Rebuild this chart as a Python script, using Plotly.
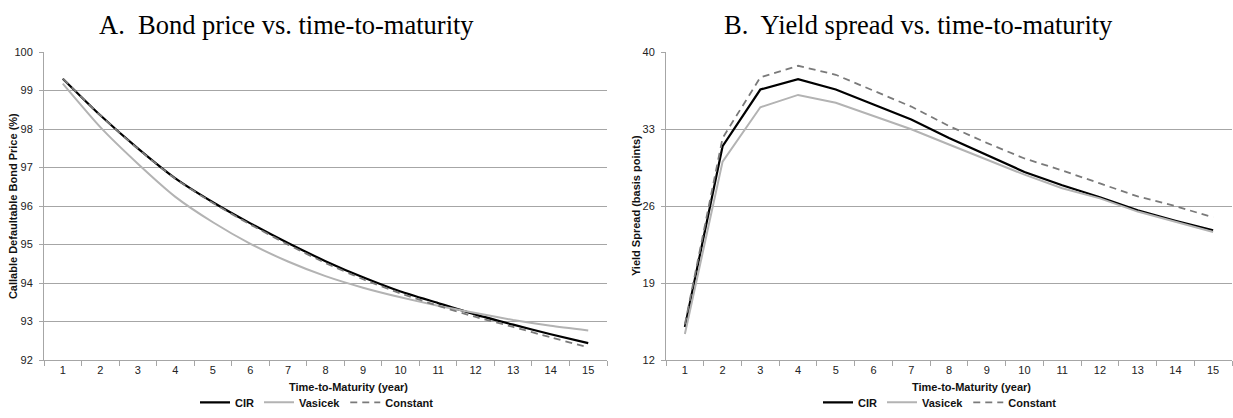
import plotly.graph_objects as go

years = list(range(1, 16))

price_cir = [99.31, 98.36, 97.50, 96.72, 96.10, 95.55, 95.04, 94.57, 94.15, 93.78, 93.48, 93.18, 92.92, 92.67, 92.44]
price_vasicek = [99.18, 98.05, 97.10, 96.24, 95.58, 95.02, 94.56, 94.18, 93.88, 93.63, 93.41, 93.22, 93.04, 92.89, 92.77]
price_constant = [99.31, 98.36, 97.49, 96.71, 96.08, 95.52, 95.00, 94.52, 94.10, 93.73, 93.41, 93.12, 92.86, 92.59, 92.33]

spread_cir = [15.0, 31.45, 36.6, 37.55, 36.6, 35.2, 33.87, 32.2, 30.63, 29.1, 27.9, 26.8, 25.62, 24.67, 23.8]
spread_vasicek = [14.36, 30.04, 34.99, 36.11, 35.4, 34.2, 32.99, 31.6, 30.2, 28.86, 27.62, 26.7, 25.5, 24.56, 23.64]
spread_constant = [15.24, 32.19, 37.7, 38.76, 37.94, 36.46, 35.05, 33.28, 31.75, 30.33, 29.24, 28.06, 26.88, 26.0, 24.97]

price_ticks = [92, 93, 94, 95, 96, 97, 98, 99, 100]
spread_ticks = [12, 19, 26, 33, 40]

series_names = ["CIR", "Vasicek", "Constant"]
styles = [
    dict(color="#000000", width=2.2, dash="solid"),
    dict(color="#b3b3b3", width=2, dash="solid"),
    dict(color="#7a7a7a", width=1.8, dash="7px,5px"),
]

W, H = 1233, 418
def px(v):
    return v / W
def py(v):
    return 1 - v / H

fig = go.Figure()

for name, ys, st in zip(series_names, [price_cir, price_vasicek, price_constant], styles):
    fig.add_trace(go.Scatter(x=years, y=ys, name="<b>" + name + "</b>", mode="lines",
                             line=dict(color=st["color"], width=st["width"], dash=st["dash"], shape="spline", smoothing=0.6),
                             xaxis="x", yaxis="y", legend="legend"))

for name, ys, st in zip(series_names, [spread_cir, spread_vasicek, spread_constant], styles):
    fig.add_trace(go.Scatter(x=years, y=ys, name="<b>" + name + "</b>", mode="lines",
                             line=dict(color=st["color"], width=st["width"], dash=st["dash"]),
                             xaxis="x2", yaxis="y2", legend="legend2"))

sans = "Liberation Sans Narrow, Arial Narrow, Liberation Sans, sans-serif"
tick_font = dict(family=sans, size=11, color="#222")
title_font = dict(family=sans, size=11, color="#111")
grid_color = "#a6a6a6"

def xaxis(domain, anchor):
    return dict(domain=domain, anchor=anchor, range=[0.5, 15.5], tickmode="array", tickvals=years,
                ticktext=[str(v) for v in years], ticks="", showgrid=False, zeroline=False,
                showline=True, linecolor=grid_color, linewidth=1, tickfont=tick_font,
                minor=dict(tickmode="linear", tick0=0.5, dtick=1, ticks="outside", ticklen=5,
                           tickcolor=grid_color, tickwidth=1, showgrid=False))

def yaxis(domain, anchor, rng, ticks):
    return dict(domain=domain, anchor=anchor, range=rng, tickmode="array", tickvals=ticks,
                showgrid=True, gridcolor=grid_color, gridwidth=1.3, zeroline=False,
                showline=True, linecolor=grid_color, linewidth=1, ticks="outside", ticklen=4,
                tickcolor=grid_color, tickfont=tick_font, ticklabelstandoff=4)

ydom = [py(364.5), py(47.5)]
legend_font = dict(family=sans, size=11, color="#111")
serif = dict(family="Liberation Serif, Times New Roman, serif", size=26.5, color="#000")

def note(text, x, y, font, angle=0):
    return dict(text=text, x=px(x), y=py(y), xref="paper", yref="paper", xanchor="center",
                yanchor="middle", showarrow=False, font=font, textangle=angle)

fig.update_layout(
    width=W, height=H,
    margin=dict(l=0, r=0, t=0, b=0),
    paper_bgcolor="white", plot_bgcolor="white",
    xaxis=xaxis([px(44), px(607)], "y"),
    yaxis=yaxis(ydom, "x", [92, 100], price_ticks),
    xaxis2=xaxis([px(666), px(1232)], "y2"),
    yaxis2=yaxis(ydom, "x2", [12, 40], spread_ticks),
    legend=dict(orientation="h", x=px(317), xanchor="center", y=py(408), yanchor="middle",
                font=legend_font, itemwidth=30, tracegroupgap=0, bgcolor="rgba(0,0,0,0)"),
    legend2=dict(orientation="h", x=px(940), xanchor="center", y=py(408), yanchor="middle",
                 font=legend_font, itemwidth=30, tracegroupgap=0, bgcolor="rgba(0,0,0,0)"),
    annotations=[
        note("A.  Bond price vs. time-to-maturity", 286, 20, serif),
        note("B.  Yield spread vs. time-to-maturity", 918, 20, serif),
        note("<b>Time-to-Maturity (year)</b>", 348, 392, title_font),
        note("<b>Time-to-Maturity (year)</b>", 971, 392, title_font),
        note("<b>Callable Defaultable Bond Price (%)</b>", 13, 206, title_font, -90),
        note("<b>Yield Spread (basis points)</b>", 636, 206, title_font, -90),
    ],
)

fig.write_html("out.html")
